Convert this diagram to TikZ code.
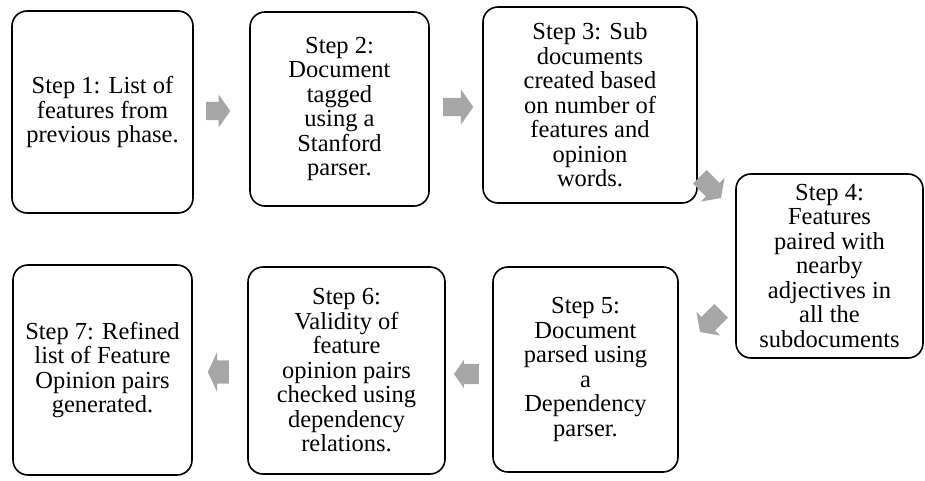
\documentclass[tikz,border=0pt]{standalone}
\usepackage{fontspec}
\setmainfont{Liberation Serif}
\usepackage{tikz}
\usetikzlibrary{shapes.arrows}

\definecolor{arrowgray}{HTML}{A6A6A6}

\begin{document}
\begin{tikzpicture}[x=1pt,y=-1pt,
  step node/.style={draw,line width=1.6pt,rounded corners=15pt,align=center,
    inner sep=0pt,font=\fontsize{24.5}{24.5}\selectfont},
  flow arrow/.style={single arrow,fill=arrowgray,draw=none,inner xsep=0pt,
    single arrow tip angle=110,minimum height=#1}]

  \useasboundingbox (0,0) rectangle (925,481);

  % top row
  \node[step node,minimum width=181pt,minimum height=202pt] (1) at (102.5,112)
    {Step 1: List of\\features from\\previous phase.};
  \node[step node,minimum width=179pt,minimum height=194pt] (2) at (339.5,109)
    {Step 2:\\Document\\tagged\\using a\\Stanford\\parser.};
  \node[step node,minimum width=214pt,minimum height=196pt] (3) at (590,105)
    {Step 3: Sub\\documents\\created based\\on number of\\features and\\opinion\\words.};

  % right
  \node[step node,minimum width=187pt,minimum height=184pt] (4) at (829.5,266)
    {Step 4:\\Features\\paired with\\nearby\\adjectives in\\all the\\subdocuments};

  % bottom row
  \node[step node,minimum width=185pt,minimum height=205pt] (5) at (585.5,369.5)
    {Step 5:\\Document\\parsed using\\a\\Dependency\\parser.};
  \node[step node,minimum width=197pt,minimum height=207pt] (6) at (346.5,370.5)
    {Step 6:\\Validity of\\feature\\opinion pairs\\checked using\\dependency\\relations.};
  \node[step node,minimum width=179pt,minimum height=210pt] (7) at (102.5,370)
    {Step 7: Refined\\list of Feature\\Opinion pairs\\generated.};

  % block arrows between the steps
  \node[flow arrow=24pt,inner ysep=9pt,minimum width=33pt,
    single arrow head extend=7.5pt] (a1) at (215,111) {};
  \node[flow arrow=30pt,inner ysep=9pt,minimum width=35pt,
    single arrow head extend=8.5pt] (a2) at (455,107) {};
  \node[flow arrow=30pt,inner ysep=9.5pt,minimum width=33pt,
    single arrow head extend=7pt,rotate=-45] (a3) at (708,185) {};
  \node[flow arrow=30pt,inner ysep=9.5pt,minimum width=33pt,
    single arrow head extend=7pt,rotate=-135] (a4) at (713,319) {};
  \node[flow arrow=25pt,inner ysep=10pt,minimum width=28pt,
    single arrow head extend=4pt,rotate=180] (a5) at (470,374) {};
  \node[flow arrow=21pt,inner ysep=11.5pt,minimum width=40pt,
    single arrow head extend=8.5pt,single arrow tip angle=130,
    rotate=180] (a6) at (221,372) {};
\end{tikzpicture}
\end{document}
